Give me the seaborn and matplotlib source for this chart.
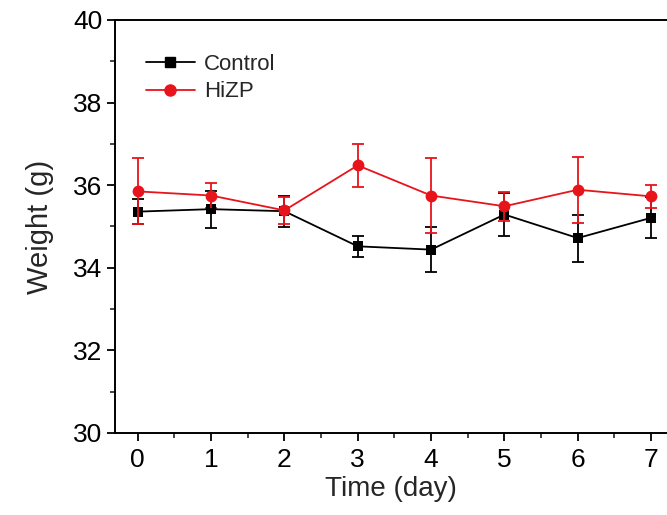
import numpy as np
import pandas as pd
import matplotlib
matplotlib.use("Agg")
import matplotlib.pyplot as plt
import seaborn as sns
from matplotlib.ticker import MultipleLocator
from matplotlib.lines import Line2D

days = [0, 1, 2, 3, 4, 5, 6, 7]
control_mean = [35.36, 35.42, 35.37, 34.52, 34.44, 35.29, 34.72, 35.21]
control_err = [0.30, 0.45, 0.38, 0.25, 0.54, 0.52, 0.57, 0.50]
hizp_mean = [35.85, 35.75, 35.39, 36.48, 35.75, 35.49, 35.89, 35.73]
hizp_err = [0.80, 0.30, 0.32, 0.52, 0.90, 0.35, 0.80, 0.28]
groups = ["Control", "HiZP"]
colors = {"Control": "#000000", "HiZP": "#e8141b"}

df = pd.concat([
    pd.DataFrame({"Time": days, "Weight": control_mean, "err": control_err, "Group": "Control"}),
    pd.DataFrame({"Time": days, "Weight": hizp_mean, "err": hizp_err, "Group": "HiZP"}),
], ignore_index=True)

sns.set_style("ticks")
plt.rcParams["font.family"] = ["Liberation Sans", "DejaVu Sans"]

fig = plt.figure(figsize=(6.67, 5.15), dpi=100)
ax = fig.add_axes([115 / 667, 82 / 515, 552 / 667, 413 / 515])

for g in groups:
    sub = df[df["Group"] == g]
    ax.errorbar(sub["Time"], sub["Weight"], yerr=sub["err"], fmt="none",
                ecolor=colors[g], elinewidth=1.3, capsize=4, capthick=1.3,
                zorder=2 if g == "Control" else 4)

sns.lineplot(data=df, x="Time", y="Weight", hue="Group", style="Group",
             markers={"Control": "s", "HiZP": "o"}, dashes=False,
             palette=colors, ax=ax, linewidth=1.3, markersize=7.5,
             markeredgewidth=0, legend=False)
for line in ax.lines:
    if matplotlib.colors.to_hex(line.get_color()) == "#e8141b":
        line.set_zorder(5)
        line.set_markersize(8.5)
    else:
        line.set_zorder(3)

handles = [Line2D([], [], color=colors["Control"], marker="s", markersize=7, lw=1.3),
           Line2D([], [], color=colors["HiZP"], marker="o", markersize=8, lw=1.3)]
ax.legend(handles, groups, loc="upper left", bbox_to_anchor=(0.04, 0.94),
          frameon=False, fontsize=16, handlelength=2.2, handletextpad=0.4,
          labelspacing=0.3, borderaxespad=0)

ax.set_xlim(-0.31, 7.217)
ax.set_ylim(30, 40)
ax.xaxis.set_major_locator(MultipleLocator(1))
ax.xaxis.set_minor_locator(MultipleLocator(0.5))
ax.yaxis.set_major_locator(MultipleLocator(2))
ax.yaxis.set_minor_locator(MultipleLocator(1))
ax.tick_params(which="major", direction="out", length=6, width=1.3, labelsize=19, colors="black")
ax.tick_params(which="minor", direction="out", length=3.5, width=1.2)
ax.tick_params(axis="x", pad=5)
ax.tick_params(axis="y", pad=3)
for s in ["left", "bottom", "top"]:
    ax.spines[s].set_visible(True)
    ax.spines[s].set_linewidth(1.4)
    ax.spines[s].set_color("black")
ax.spines["right"].set_visible(False)

ax.set_xlabel("Time (day)", fontsize=20, labelpad=3)
ax.set_ylabel("Weight (g)", fontsize=21, labelpad=14)

fig.savefig("out.png", dpi=100)
